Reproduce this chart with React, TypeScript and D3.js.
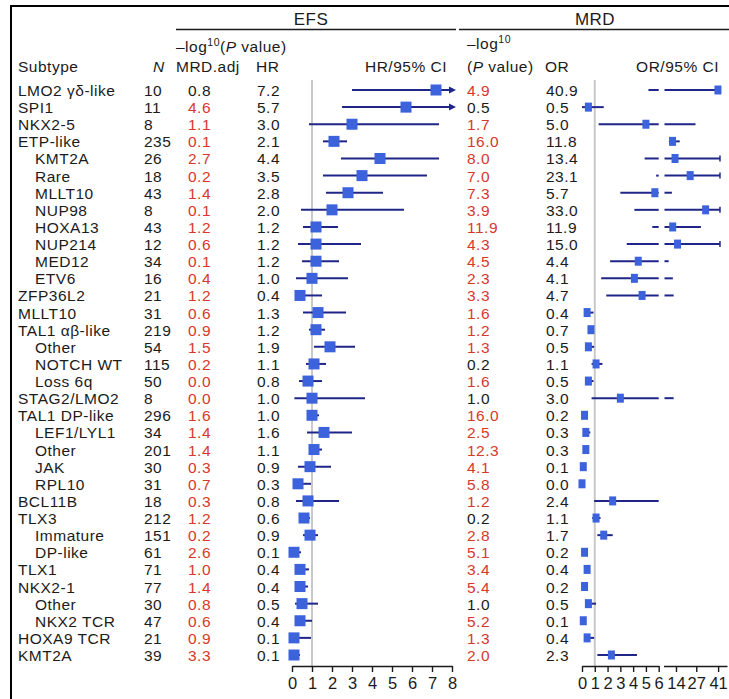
import React, { Component } from "react";
import * as d3 from "d3";

// rows, top to bottom
const subtypes = ["LMO2 γδ-like", "SPI1", "NKX2-5", "ETP-like", "KMT2A", "Rare", "MLLT10", "NUP98", "HOXA13", "NUP214", "MED12", "ETV6", "ZFP36L2", "MLLT10", "TAL1 αβ-like", "Other", "NOTCH WT", "Loss 6q", "STAG2/LMO2", "TAL1 DP-like", "LEF1/LYL1", "Other", "JAK", "RPL10", "BCL11B", "TLX3", "Immature", "DP-like", "TLX1", "NKX2-1", "Other", "NKX2 TCR", "HOXA9 TCR", "KMT2A"];
const indent = [0, 0, 0, 0, 1, 1, 1, 1, 1, 1, 1, 1, 0, 0, 0, 1, 1, 1, 0, 0, 1, 1, 1, 1, 0, 0, 1, 1, 0, 0, 1, 1, 0, 0];
const counts = [10, 11, 8, 235, 26, 18, 43, 8, 43, 12, 34, 16, 21, 31, 219, 54, 115, 50, 8, 296, 34, 201, 30, 31, 18, 212, 151, 61, 71, 77, 30, 47, 21, 39];

// EFS
const efsLogP = [0.8, 4.6, 1.1, 0.1, 2.7, 0.2, 1.4, 0.1, 1.2, 0.6, 0.1, 0.4, 1.2, 0.6, 0.9, 1.5, 0.2, 0.0, 0.0, 1.6, 1.4, 1.4, 0.3, 0.7, 0.3, 1.2, 0.2, 2.6, 1.0, 1.4, 0.8, 0.6, 0.9, 3.3];
const efsRed = [0, 1, 1, 1, 1, 1, 1, 1, 1, 1, 1, 1, 1, 1, 1, 1, 1, 1, 1, 1, 1, 1, 1, 1, 1, 1, 1, 1, 1, 1, 1, 1, 1, 1];
const hr = [7.2, 5.7, 3.0, 2.1, 4.4, 3.5, 2.8, 2.0, 1.2, 1.2, 1.2, 1.0, 0.4, 1.3, 1.2, 1.9, 1.1, 0.8, 1.0, 1.0, 1.6, 1.1, 0.9, 0.3, 0.8, 0.6, 0.9, 0.1, 0.4, 0.4, 0.5, 0.4, 0.1, 0.1];
const hrLow = [3.0, 2.5, 0.85, 1.55, 2.45, 1.55, 1.7, 0.45, 0.55, 0.3, 0.5, 0.2, 0.15, 0.55, 0.85, 1.1, 0.7, 0.35, 0.12, 0.75, 0.75, 0.9, 0.3, 0.1, 0.2, 0.45, 0.55, 0.05, 0.3, 0.3, 0.15, 0.2, 0.05, 0.02];
const hrHigh = [12.5, 11.0, 7.35, 2.75, 7.35, 6.75, 4.55, 5.6, 2.3, 3.45, 2.35, 2.8, 1.5, 2.7, 1.65, 3.15, 1.7, 1.5, 3.65, 1.35, 3.0, 1.5, 1.95, 0.95, 2.35, 0.9, 1.3, 0.45, 0.85, 0.8, 1.3, 1.0, 0.95, 0.4];

// MRD
const mrdLogP = [4.9, 0.5, 1.7, 16.0, 8.0, 7.0, 7.3, 3.9, 11.9, 4.3, 4.5, 2.3, 3.3, 1.6, 1.2, 1.3, 0.2, 1.6, 1.0, 16.0, 2.5, 12.3, 4.1, 5.8, 1.2, 0.2, 2.8, 5.1, 3.4, 5.4, 1.0, 5.2, 1.3, 2.0];
const mrdRed = [1, 0, 1, 1, 1, 1, 1, 1, 1, 1, 1, 1, 1, 1, 1, 1, 0, 1, 0, 1, 1, 1, 1, 1, 1, 0, 1, 1, 1, 1, 0, 1, 1, 1];
const orVal = [40.9, 0.5, 5.0, 11.8, 13.4, 23.1, 5.7, 33.0, 11.9, 15.0, 4.4, 4.1, 4.7, 0.4, 0.7, 0.5, 1.1, 0.5, 3.0, 0.2, 0.3, 0.3, 0.1, 0.0, 2.4, 1.1, 1.7, 0.2, 0.4, 0.2, 0.5, 0.1, 0.4, 2.3];
const orLow = [5.2, 0.0, 1.3, 8.8, 4.9, 5.8, 3.0, 4.1, 5.5, 3.5, 2.2, 1.5, 1.9, 0.2, 0.55, 0.3, 0.75, 0.3, 0.75, 0.1, 0.15, 0.15, 0.05, 0.0, 0.95, 0.8, 1.2, 0.1, 0.25, 0.1, 0.3, 0.05, 0.2, 1.2];
const orHigh = [42.0, 1.7, 26.5, 16.4, 55.0, 60.0, 11.4, 80.0, 30.0, 50.0, 9.3, 12.0, 12.5, 0.9, 0.85, 0.95, 1.6, 0.9, 12.5, 0.25, 0.65, 0.4, 0.15, 0.05, 6.0, 1.45, 2.4, 0.25, 0.55, 0.3, 1.1, 0.15, 0.95, 4.3];

const efsTicks = [0, 1, 2, 3, 4, 5, 6, 7, 8];
const orTicksLow = [0, 1, 2, 3, 4, 5, 6];
const orTicksHigh = [14, 27, 41];

const RED = "#d8382c";
const INK = "#1b1b1b";
const NAVY = "#1f2687";
const BLUE = "#3c62dc";
const FONT = "'Liberation Sans', Arial, Helvetica, sans-serif";

class ForestChart extends Component {
  componentDidMount() {
    this.drawChart();
  }

  componentDidUpdate() {
    this.drawChart();
  }

  drawChart() {
    const width = 729;
    const height = 699;
    const svg = d3.select(".forest_svg").attr("width", width).attr("height", height);
    svg.selectAll("*").remove();
    svg.style("font-family", FONT).style("font-size", "15.5px").style("letter-spacing", "0.5px");

    const rowY = d3.scaleLinear().domain([0, subtypes.length - 1]).range([90, 655]);
    const efsX = d3.scaleLinear().domain([0, 8]).range([292, 452]);
    const orX1 = d3.scaleLinear().domain([0, 6]).range([582, 658.7]);
    const orX2 = d3.scaleLinear().domain([6, 46.7]).range([663.5, 727]);
    const orClip = 42.2;
    const axisY = 666;
    const plotTop = 80;
    const rows = d3.range(subtypes.length);
    const base = (i) => rowY(i) + 6;

    // frame
    svg.append("line").attr("x1", 11).attr("x2", 11).attr("y1", 5).attr("y2", height).attr("stroke", "#000").attr("stroke-width", 2);
    svg.append("line").attr("x1", 10).attr("x2", width).attr("y1", 6).attr("y2", 6).attr("stroke", "#000").attr("stroke-width", 2);

    // group headers
    svg.append("text").attr("x", 311).attr("y", 25).attr("text-anchor", "middle").attr("fill", INK).style("font-size", "17px").text("EFS");
    svg.append("text").attr("x", 595).attr("y", 25).attr("text-anchor", "middle").attr("fill", INK).style("font-size", "17px").text("MRD");
    svg.append("line").attr("x1", 176).attr("x2", 456).attr("y1", 29.5).attr("y2", 29.5).attr("stroke", INK).attr("stroke-width", 1.4);
    svg.append("line").attr("x1", 459).attr("x2", width).attr("y1", 29.5).attr("y2", 29.5).attr("stroke", INK).attr("stroke-width", 1.4);

    // column headers
    const logHead = (x, y, rest) => {
      const t = svg.append("text").attr("x", x).attr("y", y).attr("fill", INK);
      t.append("tspan").text("–log");
      t.append("tspan").attr("dy", -6).style("font-size", "10.5px").text("10");
      if (rest) {
        t.append("tspan").attr("dy", 6).text("(");
        t.append("tspan").style("font-style", "italic").text("P");
        t.append("tspan").text(" value)");
      }
    };
    logHead(176, 52, true);
    logHead(467, 49, false);

    const headY = 72;
    svg.append("text").attr("x", 18).attr("y", headY).attr("fill", INK).text("Subtype");
    svg.append("text").attr("x", 153).attr("y", headY).attr("fill", INK).style("font-style", "italic").text("N");
    svg.append("text").attr("x", 176).attr("y", headY).attr("fill", INK).text("MRD.adj");
    svg.append("text").attr("x", 256).attr("y", headY).attr("fill", INK).text("HR");
    svg.append("text").attr("x", 447).attr("y", headY).attr("text-anchor", "end").attr("fill", INK).text("HR/95% CI");
    const pv = svg.append("text").attr("x", 467).attr("y", headY).attr("fill", INK);
    pv.append("tspan").text("(");
    pv.append("tspan").style("font-style", "italic").text("P");
    pv.append("tspan").text(" value)");
    svg.append("text").attr("x", 545).attr("y", headY).attr("fill", INK).text("OR");
    svg.append("text").attr("x", 719).attr("y", headY).attr("text-anchor", "end").attr("fill", INK).text("OR/95% CI");

    // table columns
    const col = (cls, x, fmt, color) =>
      svg.selectAll("." + cls).data(rows).join("text").attr("class", cls)
        .attr("x", x).attr("y", d => base(d)).attr("fill", color).text(fmt);

    col("c-sub", 0, d => subtypes[d], () => INK).attr("x", d => (indent[d] ? 35 : 18));
    col("c-n", 144, d => String(counts[d]), () => INK);
    col("c-efsp", 188, d => efsLogP[d].toFixed(1), d => (efsRed[d] ? RED : INK));
    col("c-hr", 257, d => hr[d].toFixed(1), () => INK);
    col("c-mrdp", 467, d => mrdLogP[d].toFixed(1), d => (mrdRed[d] ? RED : INK));
    col("c-or", 546, d => orVal[d].toFixed(1), () => INK);

    // reference lines at 1
    svg.append("line").attr("x1", efsX(1)).attr("x2", efsX(1)).attr("y1", plotTop).attr("y2", axisY)
      .attr("stroke", "#c9c9c9").attr("stroke-width", 2);
    svg.append("line").attr("x1", orX1(1)).attr("x2", orX1(1)).attr("y1", plotTop).attr("y2", axisY)
      .attr("stroke", "#c9c9c9").attr("stroke-width", 2);

    // EFS whiskers
    const efsG = svg.append("g");
    efsG.selectAll(".hr-ci").data(rows).join("line").attr("class", "hr-ci")
      .attr("x1", d => efsX(hrLow[d]))
      .attr("x2", d => (hrHigh[d] > 8 ? efsX(8) - 2 : efsX(hrHigh[d])))
      .attr("y1", d => rowY(d)).attr("y2", d => rowY(d))
      .attr("stroke", NAVY).attr("stroke-width", 2);
    efsG.selectAll(".hr-arrow").data(rows.filter(d => hrHigh[d] > 8)).join("path").attr("class", "hr-arrow")
      .attr("d", d => {
        const x = efsX(8) - 3;
        const y = rowY(d);
        return `M${x},${y - 3.5}L${x + 7},${y}L${x},${y + 3.5}Z`;
      })
      .attr("fill", NAVY);
    efsG.selectAll(".hr-sq").data(rows).join("rect").attr("class", "hr-sq")
      .attr("x", d => efsX(hr[d]) - 5.5).attr("y", d => rowY(d) - 5.5)
      .attr("width", 11).attr("height", 11).attr("fill", BLUE);

    // MRD whiskers on the broken axis
    const orG = svg.append("g");
    const lowParts = rows.filter(d => orLow[d] < 6);
    orG.selectAll(".or-ci1").data(lowParts).join("line").attr("class", "or-ci1")
      .attr("x1", d => orX1(orLow[d])).attr("x2", d => orX1(Math.min(orHigh[d], 6)))
      .attr("y1", d => rowY(d)).attr("y2", d => rowY(d))
      .attr("stroke", NAVY).attr("stroke-width", 2);
    const highParts = rows.filter(d => orHigh[d] > 6);
    orG.selectAll(".or-ci2").data(highParts).join("line").attr("class", "or-ci2")
      .attr("x1", d => orX2(Math.max(orLow[d], 6)) + 1).attr("x2", d => orX2(Math.min(orHigh[d], orClip)))
      .attr("y1", d => rowY(d)).attr("y2", d => rowY(d))
      .attr("stroke", NAVY).attr("stroke-width", 2);
    orG.selectAll(".or-cap").data(rows.filter(d => orHigh[d] > orClip)).join("line").attr("class", "or-cap")
      .attr("x1", orX2(orClip)).attr("x2", orX2(orClip))
      .attr("y1", d => rowY(d) - 3).attr("y2", d => rowY(d) + 3)
      .attr("stroke", NAVY).attr("stroke-width", 1.5);
    orG.selectAll(".or-sq").data(rows).join("rect").attr("class", "or-sq")
      .attr("x", d => (orVal[d] <= 6 ? orX1(orVal[d]) : orX2(orVal[d])) - 3.5)
      .attr("y", d => rowY(d) - 4.5)
      .attr("width", 7).attr("height", 9).attr("fill", BLUE);

    // axes
    const styleAxis = (g) => {
      g.attr("font-family", FONT).attr("font-size", 16.5).style("letter-spacing", "0px");
      g.select(".domain").attr("stroke", INK).attr("stroke-width", 1.4);
      g.selectAll(".tick line").attr("stroke", INK).attr("stroke-width", 1.4);
      g.selectAll(".tick text").attr("fill", INK).attr("dy", "0.85em");
    };
    svg.append("g").attr("transform", `translate(0, ${axisY})`)
      .call(d3.axisBottom(efsX).tickValues(efsTicks).tickFormat(d3.format("d")).tickSize(6).tickSizeOuter(0))
      .call(styleAxis);
    svg.append("g").attr("transform", `translate(0, ${axisY})`)
      .call(d3.axisBottom(orX1).tickValues(orTicksLow).tickFormat(d3.format("d")).tickSize(6).tickSizeOuter(0))
      .call(styleAxis);
    svg.append("g").attr("transform", `translate(0, ${axisY})`)
      .call(d3.axisBottom(orX2).tickValues(orTicksHigh).tickFormat(d3.format("d")).tickSize(6).tickSizeOuter(0))
      .call(styleAxis);
  }

  render() {
    return (
      <svg className="forest_svg" style={{ position: "absolute", left: 0, top: 0, display: "block", background: "#fff" }}></svg>
    );
  }
}

export default function App() {
  return <ForestChart />;
}
